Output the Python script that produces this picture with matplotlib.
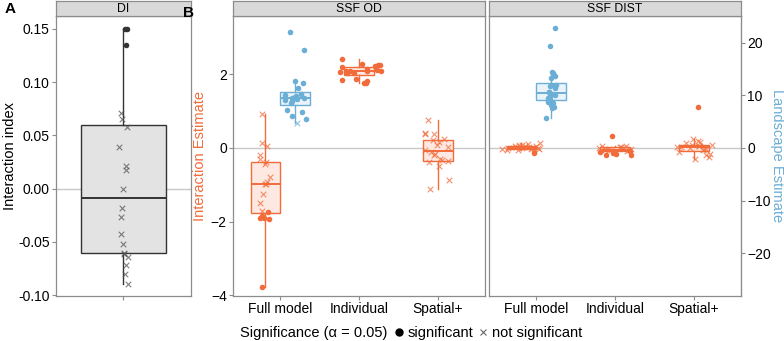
import numpy as np
import matplotlib.pyplot as plt
from matplotlib.lines import Line2D

plt.rcParams['font.family'] = ['Liberation Sans', 'DejaVu Sans']

ORANGE = '#F26B3A'
BLUE = '#6BAED6'
FRAME = '#8c8c8c'
LAND_SCALE = 7.0   # landscape estimate = interaction estimate * LAND_SCALE

categories = ['Full model', 'Individual', 'Spatial+']

# --- panel A : DI ---
di_values = [0.150, 0.150, 0.135, 0.0706, 0.065, 0.058, 0.039, 0.021, 0.0175, 0.0,
             -0.018, -0.027, -0.043, -0.052, -0.060, -0.061, -0.064, -0.072, -0.080, -0.089]
di_sig = [1, 1, 1, 0, 0, 0, 0, 0, 0, 0, 0, 0, 0, 0, 0, 0, 0, 0, 0, 0]

# --- panel B : SSF OD (interaction on left axis, landscape on right axis) ---
od_full_int = [0.91, 0.12, 0.04, -0.18, -0.31, -0.39, -0.45, -0.80, -0.92, -0.97,
               -0.97, -1.24, -1.50, -1.72, -1.73, -1.85, -1.90, -1.90, -1.92, -3.78]
od_full_int_sig = [0, 0, 0, 0, 0, 0, 0, 0, 0, 0, 0, 0, 0, 0, 1, 1, 1, 1, 1, 1]
od_full_land = [22.0, 18.6, 12.7, 12.3, 11.4, 10.3, 10.1, 9.8, 9.6, 9.45,
                9.4, 9.3, 9.1, 8.9, 8.5, 7.2, 6.9, 6.0, 5.5, 4.8]
od_full_land_sig = [1] * 19 + [0]
od_ind_int = [1.75, 1.75, 1.81, 1.84, 1.86, 2.02, 2.03, 2.05, 2.08, 2.09,
              2.09, 2.10, 2.12, 2.15, 2.20, 2.22, 2.26, 2.26, 2.29, 2.40]
od_ind_int_sig = [1] * 20
od_sp_int = [-1.11, -0.88, -0.48, -0.38, -0.36, -0.34, -0.30, -0.20, -0.16, -0.12,
             -0.06, 0.02, 0.07, 0.16, 0.21, 0.24, 0.37, 0.39, 0.40, 0.75]
od_sp_int_sig = [0] * 20

# --- panel B : SSF DIST ---
dist_full_int = [0.12, 0.10, 0.08, 0.07, 0.06, 0.05, 0.04, 0.03, 0.02, 0.01,
                 0.0, 0.0, -0.01, -0.02, -0.02, -0.03, -0.04, -0.05, -0.06, -0.14]
dist_full_int_sig = [0] * 19 + [1]
dist_full_land = [5.7, 7.5, 7.8, 8.2, 8.6, 8.8, 9.1, 9.3, 9.5, 9.8, 10.1, 10.3,
                  10.6, 10.7, 11.4, 11.8, 11.9, 12.0, 13.3, 13.6, 14.2, 14.5, 19.3, 22.7]
dist_full_land_sig = [1] * 24
dist_ind_int = [0.33, -0.08, -0.12, -0.15, -0.17, -0.18, -0.20, 0.04, 0.02, 0.0,
                0.03, -0.02, -0.04, -0.05, -0.06, 0.01, -0.03, -0.07, -0.09, 0.05]
dist_ind_int_sig = [1] * 7 + [0] * 13
dist_sp_int = [1.11, 0.25, 0.20, 0.16, 0.12, 0.08, 0.07, 0.05, 0.04, 0.03,
               0.02, 0.0, -0.02, -0.04, -0.07, -0.10, -0.16, -0.20, -0.25, -0.30]
dist_sp_int_sig = [1] + [0] * 19

rng = np.random.default_rng(7)


def style_frame(ax):
    for s in ax.spines.values():
        s.set_color(FRAME)
        s.set_linewidth(0.9)
    ax.tick_params(length=3, pad=1.5, color=FRAME, labelsize=10, labelcolor='black')


def add_strip(fig, ax, text):
    b = ax.get_position()
    sax = fig.add_axes([b.x0, 0.953, b.width, 0.044])
    sax.set_facecolor('#d9d9d9')
    sax.set_xticks([])
    sax.set_yticks([])
    for s in sax.spines.values():
        s.set_color(FRAME)
        s.set_linewidth(0.9)
    sax.text(0.5, 0.45, text, ha='center', va='center', fontsize=8.8,
             transform=sax.transAxes)


def draw_group(ax, vals, sig, pos, color, face, jit, scale=1.0, width=0.375):
    v = np.asarray(vals) / scale
    s = np.asarray(sig).astype(bool)
    ax.boxplot(v, positions=[pos], widths=width, showfliers=False, showcaps=False,
               patch_artist=True, manage_ticks=False, zorder=2,
               boxprops=dict(facecolor=face, edgecolor=color, linewidth=1.0),
               whiskerprops=dict(color=color, linewidth=1.0),
               medianprops=dict(color=color, linewidth=1.4))
    x = pos + rng.uniform(-jit, jit, len(v))
    ax.scatter(x[s], v[s], s=16, color=color, linewidths=0, zorder=4)
    ax.scatter(x[~s], v[~s], s=16, marker='x', color=color, alpha=0.75,
               linewidths=0.8, zorder=4)


fig = plt.figure(figsize=(7.84, 3.41), dpi=100)
bottom, height = 0.132, 0.821
ax_a = fig.add_axes([0.0714, bottom, 0.1722, height])
ax_od = fig.add_axes([0.2972, bottom, 0.3214, height])
ax_dist = fig.add_axes([0.6237, bottom, 0.3215, height])

# panel A
ax_a.axhline(0, color='#c8c8c8', lw=1.0, zorder=1)
draw_group(ax_a, di_values, di_sig, 1, '#333333', '#e3e3e3', 0.04, width=0.75)
ax_a.set_xlim(0.4, 1.6)
ax_a.set_ylim(-0.1007, 0.162)
ax_a.set_yticks([-0.10, -0.05, 0.0, 0.05, 0.10, 0.15])
ax_a.set_yticklabels(['-0.10', '-0.05', '0.00', '0.05', '0.10', '0.15'])
ax_a.set_xticks([1])
ax_a.set_xticklabels([''])
ax_a.set_ylabel('Interaction index', fontsize=10.5, labelpad=1)
style_frame(ax_a)

# recolour DI crosses grey, dots black
for coll in ax_a.collections:
    if coll.get_offsets().shape[0] > 3:
        coll.set_color('#555555')

pos = np.arange(1, 4)
dodge = 0.1875

draw_group(ax_od, od_full_int, od_full_int_sig, pos[0] - dodge, ORANGE, '#fde9e1', 0.07)
draw_group(ax_od, od_full_land, od_full_land_sig, pos[0] + dodge, BLUE, '#eaf3fa', 0.15,
           scale=LAND_SCALE)
draw_group(ax_od, od_ind_int, od_ind_int_sig, pos[1], ORANGE, '#fde9e1', 0.3)
draw_group(ax_od, od_sp_int, od_sp_int_sig, pos[2], ORANGE, '#fde9e1', 0.17)

draw_group(ax_dist, dist_full_int, dist_full_int_sig, pos[0] - dodge, ORANGE, '#fde9e1', 0.25)
draw_group(ax_dist, dist_full_land, dist_full_land_sig, pos[0] + dodge, BLUE, '#eaf3fa', 0.06,
           scale=LAND_SCALE)
draw_group(ax_dist, dist_ind_int, dist_ind_int_sig, pos[1], ORANGE, '#fde9e1', 0.22)
draw_group(ax_dist, dist_sp_int, dist_sp_int_sig, pos[2], ORANGE, '#fde9e1', 0.25)

for ax in (ax_od, ax_dist):
    ax.axhline(0, color='#c8c8c8', lw=1.0, zorder=1)
    ax.set_xlim(0.4, 3.6)
    ax.set_ylim(-4.02, 3.58)
    ax.set_xticks(pos)
    ax.set_xticklabels(categories)
    style_frame(ax)

ax_od.set_yticks([-4, -2, 0, 2])
ax_od.set_ylabel('Interaction Estimate', color=ORANGE, fontsize=10.5, labelpad=3)
ax_dist.set_yticks([])

sec = ax_dist.secondary_yaxis('right', functions=(lambda y: y * LAND_SCALE,
                                                  lambda y: y / LAND_SCALE))
sec.set_yticks([-20, -10, 0, 10, 20])
sec.spines['right'].set_color(FRAME)
sec.tick_params(length=3, pad=1.5, color=FRAME, labelsize=10)
sec.set_ylabel('Landscape Estimate', color=BLUE, fontsize=10.5, rotation=270, labelpad=9)

add_strip(fig, ax_a, 'DI')
add_strip(fig, ax_od, 'SSF OD')
add_strip(fig, ax_dist, 'SSF DIST')

fig.text(0.006, 0.975, 'A', fontsize=11, fontweight='bold', va='center')
fig.text(0.233, 0.963, 'B', fontsize=11, fontweight='bold', va='center')

# significance legend
fig.text(0.494, 0.023, 'Significance (α = 0.05)', ha='right', va='center', fontsize=10.5)
handles = [Line2D([], [], ls='none', marker='o', color='black', markersize=5,
                  label='significant'),
           Line2D([], [], ls='none', marker='x', color='#666666', markersize=5,
                  markeredgewidth=0.8, label='not significant')]
fig.legend(handles=handles, loc='center left', bbox_to_anchor=(0.503, 0.023), ncol=2,
           frameon=False, fontsize=10.5, handlelength=0.6, handletextpad=0.3,
           columnspacing=0.4, borderpad=0, borderaxespad=0)

fig.savefig('out.png', dpi=100)
